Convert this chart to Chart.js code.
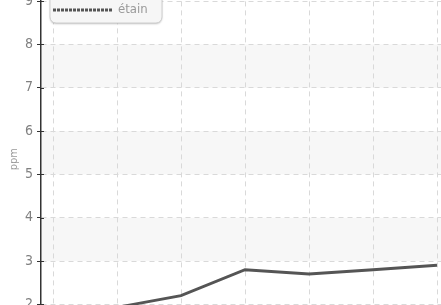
<!DOCTYPE html>
<html>
<head>
<meta charset="utf-8">
<script src="https://cdn.jsdelivr.net/npm/chart.js@4.4.1/dist/chart.umd.min.js"></script>
<style>
  html, body { margin: 0; padding: 0; background: #fff; overflow: hidden; }
  #wrap { position: absolute; left: 0; top: -20px; width: 441px; height: 360px; }
</style>
</head>
<body>
<div id="wrap"><canvas id="tinChart"></canvas></div>
<script>
// data (x positions are category indices)
const categories = [0, 1, 2, 3, 4, 5, 6];
const tinValues = [1.8, 1.93, 2.2, 2.8, 2.7, 2.8, 2.9];
const seriesLabel = 'étain';
const yTicks = [2, 3, 4, 5, 6, 7, 8, 9];

const labelFont = "'Liberation Sans Narrow', 'DejaVu Sans Condensed', 'Open Sans', sans-serif";

// light grey bands between every other pair of ticks
const bandsPlugin = {
    id: 'bands',
    beforeDraw(chart) {
        const ctx = chart.ctx;
        const area = chart.chartArea;
        const y = chart.scales.y;
        ctx.save();
        ctx.fillStyle = '#f7f7f7';
        yTicks.forEach(function(v) {
            if (v % 2 === 1 && yTicks.includes(v + 1)) {
                const top = y.getPixelForValue(v + 1);
                const bottom = y.getPixelForValue(v);
                ctx.fillRect(area.left, top, area.right - area.left, bottom - top);
            }
        });
        ctx.restore();
    },
    // tick marks also poke a little into the plot
    afterDraw(chart) {
        const ctx = chart.ctx;
        const y = chart.scales.y;
        const left = chart.chartArea.left;
        ctx.save();
        ctx.strokeStyle = '#333';
        ctx.lineWidth = 1;
        yTicks.forEach(function(v) {
            const py = Math.round(y.getPixelForValue(v)) + 0.5;
            ctx.beginPath();
            ctx.moveTo(left, py);
            ctx.lineTo(left + 3, py);
            ctx.stroke();
        });
        ctx.restore();
    }
};

// floating legend box in the top-left corner of the plot
const boxLegend = {
    id: 'boxLegend',
    afterDatasetsDraw(chart) {
        const ctx = chart.ctx;
        const ds = chart.data.datasets[0];
        const x = 50, y = 0, w = 112, h = 43, r = 6;
        ctx.save();
        ctx.shadowColor = 'rgba(0,0,0,0.25)';
        ctx.shadowBlur = 2;
        ctx.shadowOffsetY = 1;
        ctx.beginPath();
        ctx.roundRect(x, y, w, h, r);
        ctx.fillStyle = '#f6f6f6';
        ctx.fill();
        ctx.shadowColor = 'transparent';
        ctx.strokeStyle = '#cfcfcf';
        ctx.lineWidth = 1;
        ctx.stroke();

        const ly = 30;
        ctx.beginPath();
        ctx.setLineDash([3, 1]);
        ctx.moveTo(x + 3, ly);
        ctx.lineTo(x + 63, ly);
        ctx.strokeStyle = ds.borderColor;
        ctx.lineWidth = 3;
        ctx.stroke();
        ctx.setLineDash([]);

        ctx.fillStyle = '#999';
        ctx.font = '13px ' + labelFont;
        ctx.textBaseline = 'middle';
        ctx.fillText(ds.label, x + 68, ly);
        ctx.restore();
    }
};

new Chart(document.getElementById('tinChart'), {
    type: 'line',
    data: {
        datasets: [{
            label: seriesLabel,
            data: categories.map((c, i) => ({ x: c, y: tinValues[i] })),
            borderColor: '#555555',
            borderWidth: 3,
            pointRadius: 0,
            tension: 0,
            fill: false
        }]
    },
    options: {
        responsive: true,
        maintainAspectRatio: false,
        animation: false,
        layout: { padding: { top: 10, right: 0, bottom: 14, left: 0 } },
        plugins: {
            legend: { display: false },
            tooltip: { enabled: false }
        },
        scales: {
            x: {
                type: 'linear',
                min: -0.1875,
                max: 6.0625,
                ticks: { display: false, stepSize: 1, includeBounds: false },
                border: { display: false, dash: [5, 4] },
                grid: {
                    color: '#d9d9d9',
                    lineWidth: 1,
                    drawTicks: false
                }
            },
            y: {
                min: 1.5,
                max: 9.2,
                afterFit(scale) { scale.width = 41; },
                afterBuildTicks(scale) { scale.ticks = yTicks.map(v => ({ value: v })); },
                ticks: {
                    color: '#808080',
                    padding: 4,
                    font: { family: labelFont, size: 14 }
                },
                title: {
                    display: true,
                    text: 'ppm',
                    color: '#999',
                    padding: { top: 8, bottom: 0 },
                    font: { family: labelFont, size: 11 }
                },
                border: { display: true, color: '#333', width: 1.5, dash: [5, 4] },
                grid: {
                    color: '#d9d9d9',
                    lineWidth: 1,
                    tickColor: '#333',
                    tickLength: 4,
                    tickBorderDash: []
                }
            }
        }
    },
    plugins: [bandsPlugin, boxLegend]
});
</script>
</body>
</html>
